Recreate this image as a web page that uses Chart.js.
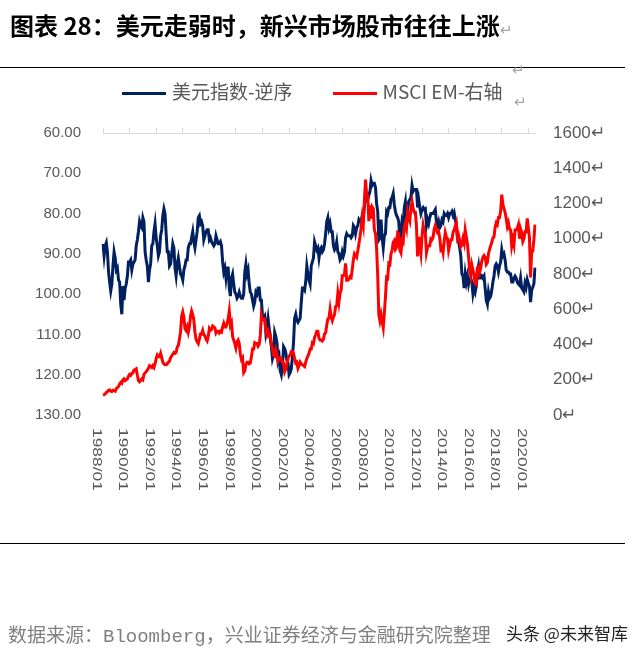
<!DOCTYPE html>
<html>
<head>
<meta charset="utf-8">
<script src="https://cdn.jsdelivr.net/npm/chart.js@4/dist/chart.umd.min.js"></script>
<style>
body { margin:0; background:#fff; width:640px; height:653px; position:relative; overflow:hidden; font-family:"Noto Sans CJK SC", sans-serif; }
#chart { position:absolute; left:0; top:0; }
#title { position:absolute; left:10px; top:7px; font-size:24px; font-weight:bold; color:#000; white-space:nowrap; }
#title .ret, .ret { font-weight:normal; color:#a6a6a6; font-size:15px; }
.rule { position:absolute; left:0; width:625px; border-top:1px solid #000; }
#legend { position:absolute; left:122px; top:77px; font-size:19px; color:#595959; white-space:nowrap; }
#legend .sw { display:inline-block; width:44px; height:3px; vertical-align:middle; margin-right:6px; }
.mk { position:absolute; }
#source { position:absolute; left:8px; top:620px; font-size:19px; color:#7f7f7f; white-space:nowrap; }
#source .en { font-family:"Liberation Mono", monospace; }
#mark { position:absolute; left:506px; top:620px; font-size:17px; color:#222; white-space:nowrap; text-shadow:0 0 3px #fff, 0 0 3px #fff; }
</style>
</head>
<body>
<canvas id="chart" width="640" height="653"></canvas>
<div id="title">图表 28：美元走弱时，新兴市场股市往往上涨<span class="ret">↵</span></div>
<div class="rule" style="top:67px"></div>
<span class="mk ret" style="left:512px;top:58px">↵</span>
<div id="legend"><span class="sw" style="background:#002060"></span>美元指数-逆序<span class="sw" style="background:#ff0000;margin-left:40px"></span>MSCI EM-右轴</div>
<span class="mk ret" style="left:514px;top:90px">↵</span>
<div class="rule" style="top:543px"></div>
<div id="source">数据来源：<span class="en">Bloomberg</span>，兴业证券经济与金融研究院整理</div>
<div id="mark">头条 @未来智库</div>
<script>
// monthly categories 1988/01 .. 2020/07
const months = [];
for (let y = 1988; y <= 2020; y++) {
    for (let m = 1; m <= 12; m++) {
        if (y === 2020 && m > 7) break;
        months.push(y + '/' + (m < 10 ? '0' + m : m));
    }
}

const tickLabels = ['1988/01', '1990/01', '1992/01', '1994/01', '1996/01', '1998/01', '2000/01', '2002/01',
    '2004/01', '2006/01', '2008/01', '2010/01', '2012/01', '2014/01', '2016/01', '2018/01', '2020/01'];

// US dollar index (plotted reversed, left axis)
const dxy = [
    87.5, 90.5, 88.0, 87.2, 89.5, 94.5, 97.0, 99.2, 97.5, 93.0, 89.5, 91.0,
    94.0, 93.5, 96.5, 97.0, 102.5, 105.0, 98.0, 101.5, 98.5, 97.5, 95.5, 92.0,
    92.0, 91.5, 94.0, 92.5, 92.0, 91.5, 88.0, 86.5, 84.5, 82.0, 83.0, 83.5,
    81.0, 82.0, 89.5, 91.5, 93.0, 97.0, 94.0, 92.5, 88.0, 87.5, 84.5, 82.5,
    86.0, 88.0, 90.5, 89.5, 85.5, 84.0, 80.5, 78.8, 80.0, 85.0, 89.5, 89.5,
    93.0, 92.5, 90.0, 87.5, 88.5, 93.5, 95.5, 92.5, 91.0, 93.0, 95.0, 95.5,
    96.5, 94.0, 93.0, 91.5, 91.5, 88.5, 87.5, 87.5, 86.0, 84.5, 87.0, 88.5,
    86.5, 84.5, 81.0, 80.5, 82.5, 82.0, 83.0, 86.5, 85.5, 84.5, 84.0, 84.0,
    86.5, 86.0, 87.0, 87.5, 88.0, 87.5, 85.5, 86.5, 87.5, 87.5, 87.0, 88.0,
    92.0, 94.5, 93.5, 96.0, 93.5, 93.5, 98.5, 100.5, 96.0, 95.0, 97.5, 99.5,
    100.0, 101.0, 100.5, 99.5, 100.5, 101.0, 101.0, 100.0, 94.5, 92.5, 95.0, 94.0,
    97.5, 99.5, 100.0, 101.5, 103.0, 102.0, 99.5, 100.0, 98.5, 98.5, 101.5, 101.5,
    105.5, 106.0, 105.5, 109.5, 108.0, 106.0, 108.5, 111.0, 113.0, 116.0, 115.0, 109.5,
    110.5, 112.0, 116.5, 115.5, 119.0, 120.0, 118.0, 113.0, 113.5, 114.5, 116.5, 117.0,
    120.0, 119.5, 118.5, 115.5, 112.0, 106.0, 105.0, 106.5, 107.0, 106.5, 106.0, 102.0,
    98.5, 98.5, 99.0, 97.0, 93.0, 95.0, 96.5, 97.5, 93.0, 92.0, 91.0, 87.0,
    88.0, 89.0, 88.5, 91.0, 89.0, 88.5, 89.5, 89.0, 87.5, 85.0, 82.0, 81.0,
    83.5, 82.5, 84.5, 84.5, 88.0, 89.0, 88.5, 87.0, 89.5, 90.0, 91.5, 91.0,
    89.5, 90.5, 89.5, 86.0, 85.0, 85.5, 85.5, 85.5, 86.0, 85.5, 83.0, 83.5,
    85.0, 83.5, 83.0, 81.5, 82.0, 82.0, 80.5, 81.0, 78.0, 76.5, 75.5, 76.5,
    75.5, 74.5, 71.8, 73.0, 72.5, 72.5, 73.5, 77.5, 79.5, 86.5, 86.0, 81.5,
    86.0, 88.5, 85.5, 85.0, 79.5, 80.0, 78.5, 78.5, 76.5, 76.0, 75.0, 77.8,
    79.5, 80.5, 81.0, 82.0, 86.5, 86.0, 82.0, 83.0, 78.5, 77.0, 81.0, 79.0,
    77.0, 76.5, 76.0, 73.0, 74.5, 74.0, 74.0, 74.0, 78.5, 76.5, 78.5, 80.0,
    79.0, 78.5, 79.0, 78.8, 83.0, 81.5, 82.5, 81.0, 80.0, 80.0, 80.0, 79.5,
    79.0, 82.0, 83.0, 82.0, 83.5, 83.0, 81.5, 82.0, 80.0, 80.5, 80.5, 80.0,
    81.0, 80.0, 80.0, 79.5, 80.5, 79.8, 81.5, 82.8, 86.0, 87.0, 88.5, 90.5,
    95.0, 95.5, 98.5, 95.0, 97.0, 95.5, 97.5, 96.0, 96.0, 97.0, 100.0, 98.5,
    99.5, 98.0, 94.5, 93.0, 96.0, 96.0, 95.5, 96.0, 95.5, 98.5, 101.5, 102.5,
    99.5, 101.0, 100.5, 99.0, 97.0, 95.5, 93.0, 92.5, 93.0, 94.5, 93.0, 92.0,
    89.0, 90.5, 90.0, 91.5, 94.0, 94.5, 94.5, 95.0, 95.0, 97.0, 97.0, 96.0,
    95.5, 96.0, 97.0, 97.5, 97.8, 96.0, 98.5, 98.9, 99.4, 97.3, 98.3, 96.4,
    97.4, 98.1, 102.0, 99.0, 98.3, 97.4, 93.4
];

// MSCI Emerging Markets (right axis)
const msciEm = [
    112, 115, 120, 128, 132, 140, 142, 135, 133, 140, 138, 135,
    150, 155, 162, 175, 185, 180, 200, 205, 195, 200, 205, 220,
    230, 225, 235, 240, 255, 258, 262, 225, 195, 188, 195, 205,
    200, 230, 240, 245, 255, 265, 280, 275, 270, 280, 270, 290,
    320, 340, 330, 330, 350, 325, 300, 290, 285, 285, 290, 300,
    305, 325, 335, 345, 355, 350, 355, 385, 395, 430, 470, 560,
    585, 555, 490, 480, 500, 470, 500, 560, 590, 570, 540, 470,
    430, 415, 405, 430, 460, 460, 480, 455, 450, 430, 420, 445,
    490, 480, 485, 505, 500, 495, 465, 475, 475, 465, 475, 470,
    500, 520, 500, 500, 520, 545, 590, 510, 525, 445, 425, 405,
    380, 415, 425, 405, 345, 315, 325, 240, 250, 285, 300, 300,
    290, 295, 330, 375, 375, 410, 405, 405, 390, 400, 450, 565,
    540, 545, 545, 480, 455, 475, 450, 455, 400, 375, 340, 335,
    370, 345, 305, 320, 325, 320, 300, 295, 245, 260, 290, 320,
    335, 340, 360, 360, 350, 320, 295, 300, 265, 280, 300, 290,
    285, 280, 275, 300, 320, 335, 350, 375, 375, 410, 405, 440,
    455, 475, 475, 435, 425, 425, 420, 430, 460, 465, 510, 545,
    550, 600, 555, 535, 555, 570, 615, 620, 690, 640, 690, 710,
    790, 790, 800, 860, 765, 765, 770, 785, 780, 825, 880, 915,
    905, 895, 930, 970, 1010, 1060, 1120, 1080, 1220, 1335, 1250, 1245,
    1100, 1190, 1115, 1180, 1170, 1050, 1030, 945, 790, 570, 535, 570,
    530, 495, 580, 670, 780, 775, 860, 855, 915, 935, 980, 990,
    940, 950, 1035, 1030, 935, 920, 990, 980, 1065, 1090, 1060, 1150,
    1120, 1100, 1175, 1210, 1170, 1150, 1150, 1070, 900, 1010, 960, 915,
    1015, 1075, 1040, 1030, 920, 950, 960, 960, 1000, 995, 1010, 1055,
    1075, 1055, 1035, 1040, 1005, 940, 950, 920, 985, 1035, 1010, 1000,
    935, 965, 995, 995, 1035, 1050, 1070, 1090, 1005, 1020, 990, 955,
    965, 1000, 975, 1050, 1010, 970, 900, 820, 790, 850, 820, 795,
    745, 740, 835, 840, 810, 835, 875, 895, 905, 895, 855, 865,
    915, 940, 960, 980, 1005, 1010, 1065, 1090, 1080, 1120, 1120, 1160,
    1250, 1195, 1170, 1150, 1115, 1070, 1090, 1055, 1050, 960, 995, 965,
    1050, 1050, 1060, 1080, 1000, 1055, 1035, 985, 1000, 1040, 1040, 1115,
    1060, 1005, 780, 925, 930, 995, 1080
];

const axisFont = { family: '"Liberation Sans", Arial, sans-serif', size: 15 };

// vertical date labels under the plot, reading top to bottom
const dateLabels = {
    id: 'dateLabels',
    afterDraw(chart) {
        const xs = chart.scales.x;
        const ctx = chart.ctx;
        ctx.save();
        ctx.fillStyle = '#595959';
        ctx.font = '12px "Liberation Sans", Arial, sans-serif';
        ctx.textBaseline = 'middle';
        ctx.textAlign = 'left';
        tickLabels.forEach(lab => {
            const px = xs.getPixelForValue(months.indexOf(lab)) - 7;
            ctx.save();
            ctx.translate(px, chart.chartArea.bottom + 13);
            ctx.rotate(Math.PI / 2);
            ctx.scale(1.45, 1);
            ctx.fillText(lab, 0, 0);
            ctx.restore();
        });
        ctx.restore();
    }
};

new Chart(document.getElementById('chart'), {
    type: 'line',
    data: {
        labels: months,
        datasets: [{
            label: '美元指数-逆序',
            data: dxy,
            yAxisID: 'y',
            borderColor: '#002060',
            borderWidth: 3,
            pointRadius: 0,
            tension: 0,
            order: 2
        }, {
            label: 'MSCI EM-右轴',
            data: msciEm,
            yAxisID: 'y1',
            borderColor: '#ff0000',
            borderWidth: 3,
            pointRadius: 0,
            tension: 0,
            order: 1
        }]
    },
    options: {
        responsive: false,
        animation: false,
        devicePixelRatio: 1,
        layout: { padding: { top: 128, bottom: 238, left: 0, right: 0 } },
        plugins: { legend: { display: false }, tooltip: { enabled: false } },
        scales: {
            x: {
                type: 'category',
                position: 'top',
                offset: false,
                ticks: { display: false, autoSkip: false },
                grid: {
                    drawOnChartArea: false,
                    drawTicks: true,
                    tickLength: 5,
                    color: c => tickLabels.includes(months[c.index]) ? '#d9d9d9' : 'rgba(0,0,0,0)'
                },
                border: { display: true, color: '#d9d9d9' },
                afterFit: s => { s.height = 5; }
            },
            y: {
                position: 'left',
                reverse: true,
                min: 60,
                max: 130,
                ticks: { stepSize: 10, padding: 22, color: '#595959', font: axisFont, callback: v => v.toFixed(2) },
                grid: { display: false, drawTicks: false },
                border: { display: false },
                afterFit: s => { s.width = 103; }
            },
            y1: {
                position: 'right',
                min: 0,
                max: 1600,
                ticks: { stepSize: 200, padding: 18, color: '#595959', font: { family: axisFont.family, size: 17 }, callback: v => v + '↵' },
                grid: { display: false, drawTicks: false },
                border: { display: false },
                afterFit: s => { s.width = 105; }
            }
        }
    },
    plugins: [dateLabels]
});
</script>
</body>
</html>
